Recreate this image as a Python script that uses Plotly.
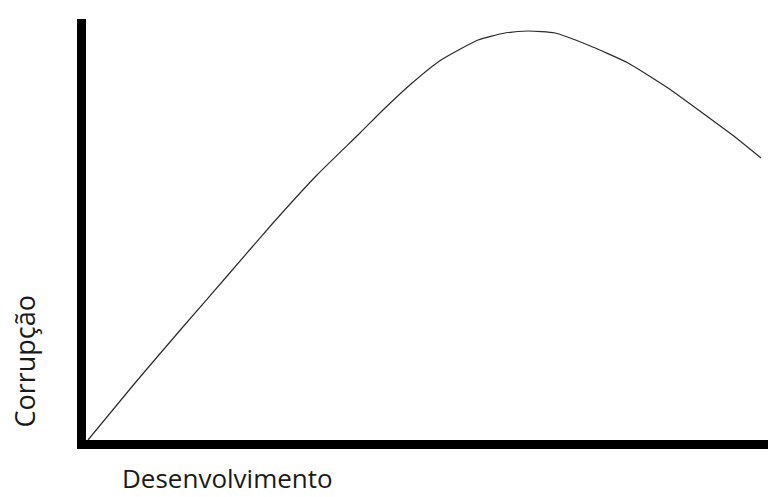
import plotly.graph_objects as go

# curve sketch: development (x) vs corruption (y), arbitrary units
desenvolvimento = [0, 47, 94, 140, 185, 229, 272, 295, 323, 353, 390,
                   417, 440, 467, 500, 540, 580, 620, 647, 673]
corrupcao = [0, 57, 112, 165, 217, 265, 307, 330, 356, 380, 400,
             407, 409, 407, 395, 377, 352, 323, 303, 282]

x_label = "Desenvolvimento"
y_label = "Corrupção"

fig = go.Figure()
fig.add_trace(go.Scatter(
    x=desenvolvimento,
    y=corrupcao,
    mode="lines",
    line=dict(color="#2a2a2a", width=1.2, shape="spline", smoothing=0.5),
    hoverinfo="skip",
))

axis_style = dict(
    showline=True,
    linecolor="black",
    linewidth=9,
    showgrid=False,
    zeroline=False,
    showticklabels=False,
    ticks="",
    fixedrange=True,
)

fig.update_xaxes(range=[-2, 680], **axis_style)
fig.update_yaxes(range=[0, 421], **axis_style)

label_font = dict(family="Open Sans, sans-serif", size=27, color="#1a1a1a")

fig.update_layout(
    width=768,
    height=497,
    margin=dict(l=86, r=0, t=19, b=57),
    plot_bgcolor="white",
    paper_bgcolor="white",
    showlegend=False,
    annotations=[
        dict(text=x_label, xref="paper", yref="paper", x=0.2082, y=-0.0903,
             xanchor="center", yanchor="middle", showarrow=False,
             font=dict(label_font, size=26)),
        dict(text=y_label, xref="paper", yref="paper", x=-0.0915, y=0.1876,
             xanchor="center", yanchor="middle", showarrow=False, textangle=-90,
             font=label_font),
    ],
)

# drop the default 8px body margin so the figure fills the window exactly
fig.write_html(
    "out.html",
    config={"displayModeBar": False},
    post_script="document.body.style.margin = '0';",
)
